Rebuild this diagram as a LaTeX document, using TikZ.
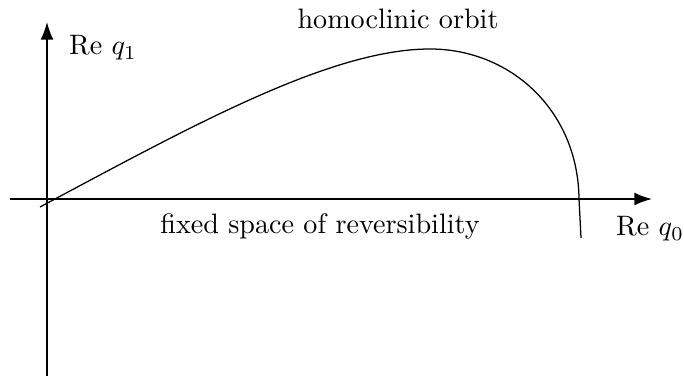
\documentclass[tikz,border=0pt]{standalone}
\usepackage{amsmath,amssymb}
\usepackage{tikz}
\usetikzlibrary{arrows.meta,positioning}

\begin{document}
\begin{tikzpicture}[x=0.0125cm, y=-0.0125cm, font=\normalsize, >={Latex[length=2.2mm, width=1.6mm]}]
  \useasboundingbox (0,0) rectangle (684,381);
  % axes
  \tikzstyle{axis}=[->, line width=0.6pt]
  \coordinate (xs) at (10,199);
  \coordinate (xe) at (652,199);
  \coordinate (ys) at (47,376);
  \coordinate (ye) at (47,22);
  \draw[axis] (xs) -- (xe);
  \draw[axis] (ys) -- (ye);
  \node (lq1) at (103,48) {Re $q_1$};
  \node (lq0) at (650,229) {Re $q_0$};
  \node (lfix) at (320,226) {fixed space of reversibility};
  \node (lhom) at (398,19) {homoclinic orbit};

  % orbit
  \coordinate (ob) at (40,207);
  \coordinate (otop) at (430,49);
  \coordinate (ox) at (579,199);
  \coordinate (oe) at (581,238);
  \draw[line width=0.45pt] (ob) .. controls (190,127) and (330,49) .. (otop)
    .. controls (510,49) and (578,110) .. (ox) -- (oe);
\end{tikzpicture}
\end{document}
